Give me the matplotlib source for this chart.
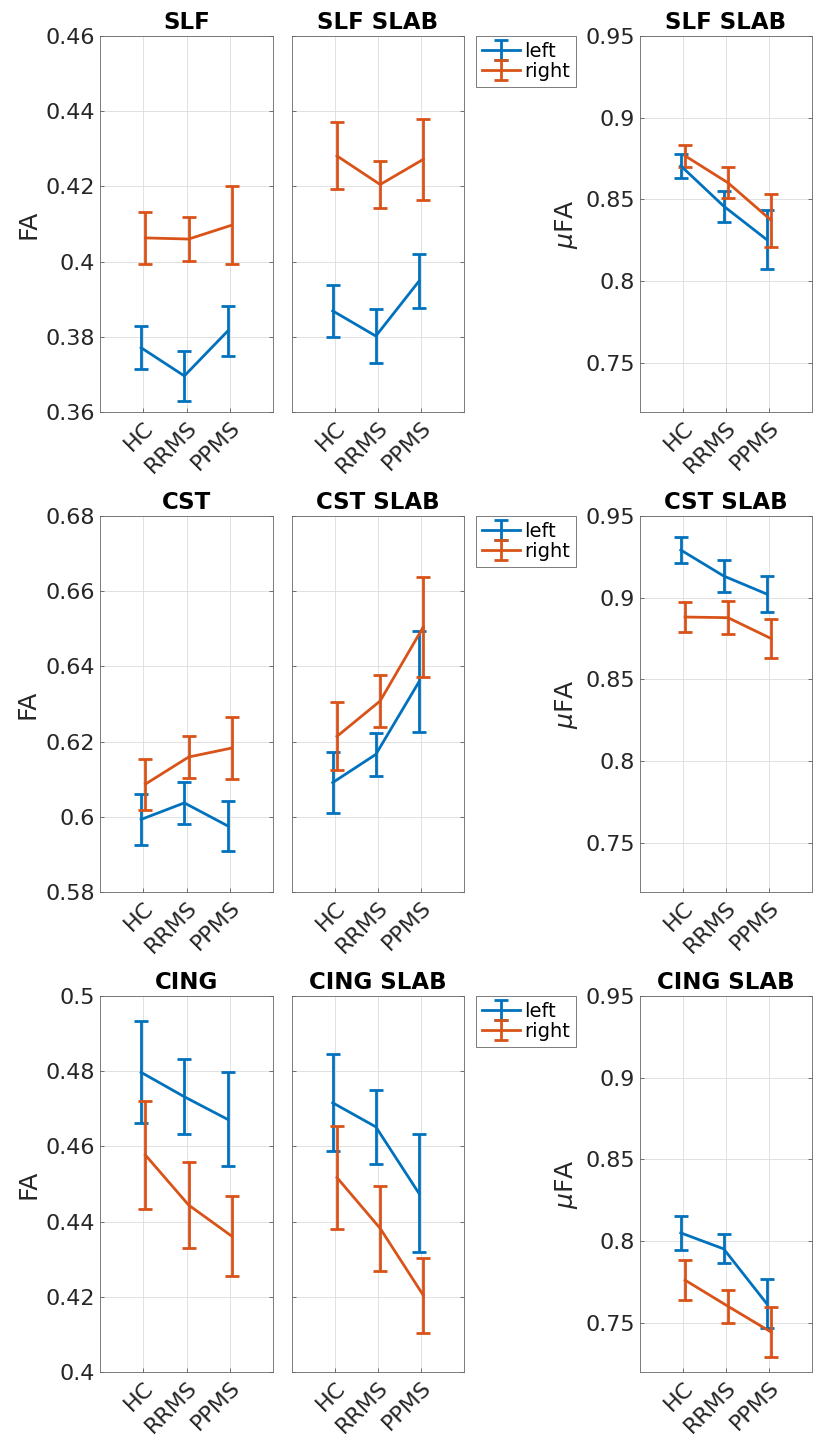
import matplotlib
matplotlib.use("Agg")
import matplotlib.pyplot as plt
import numpy as np

plt.rcParams['font.family'] = ['DejaVu Sans']

groups = ["HC", "RRMS", "PPMS"]
titles = ["SLF", "SLF SLAB", "SLF SLAB",
          "CST", "CST SLAB", "CST SLAB",
          "CING", "CING SLAB", "CING SLAB"]

# means and half-widths of error bars, per panel: (left, right)
slf_left = [0.3771, 0.3696, 0.3815]
slf_left_err = [0.0057, 0.0067, 0.0066]
slf_right = [0.4063, 0.4060, 0.4097]
slf_right_err = [0.0070, 0.0059, 0.0104]

slfslab_left = [0.3869, 0.3802, 0.3948]
slfslab_left_err = [0.0069, 0.0071, 0.0071]
slfslab_right = [0.4281, 0.4205, 0.4272]
slfslab_right_err = [0.0089, 0.0063, 0.0107]

slfmu_left = [0.8706, 0.8459, 0.8255]
slfmu_left_err = [0.0075, 0.0094, 0.0178]
slfmu_right = [0.8767, 0.8602, 0.8374]
slfmu_right_err = [0.0067, 0.0094, 0.0162]

cst_left = [0.5993, 0.6037, 0.5976]
cst_left_err = [0.0068, 0.0055, 0.0066]
cst_right = [0.6087, 0.6159, 0.6183]
cst_right_err = [0.0068, 0.0057, 0.0083]

cstslab_left = [0.6091, 0.6166, 0.6359]
cstslab_left_err = [0.0082, 0.0058, 0.0134]
cstslab_right = [0.6214, 0.6308, 0.6505]
cstslab_right_err = [0.0090, 0.0070, 0.0133]

cstmu_left = [0.9292, 0.9133, 0.9023]
cstmu_left_err = [0.0080, 0.0097, 0.0112]
cstmu_right = [0.8882, 0.8878, 0.8751]
cstmu_right_err = [0.0090, 0.0100, 0.0119]

cing_left = [0.4797, 0.4732, 0.4672]
cing_left_err = [0.0136, 0.0100, 0.0125]
cing_right = [0.4577, 0.4444, 0.4361]
cing_right_err = [0.0144, 0.0114, 0.0106]

cingslab_left = [0.4716, 0.4652, 0.4475]
cingslab_left_err = [0.0129, 0.0099, 0.0157]
cingslab_right = [0.4517, 0.4382, 0.4204]
cingslab_right_err = [0.0138, 0.0113, 0.0099]

cingmu_left = [0.8051, 0.7953, 0.7619]
cingmu_left_err = [0.0105, 0.0089, 0.0148]
cingmu_right = [0.7762, 0.7602, 0.7445]
cingmu_right_err = [0.0122, 0.0102, 0.0153]

panels = [
    (slf_left, slf_left_err, slf_right, slf_right_err),
    (slfslab_left, slfslab_left_err, slfslab_right, slfslab_right_err),
    (slfmu_left, slfmu_left_err, slfmu_right, slfmu_right_err),
    (cst_left, cst_left_err, cst_right, cst_right_err),
    (cstslab_left, cstslab_left_err, cstslab_right, cstslab_right_err),
    (cstmu_left, cstmu_left_err, cstmu_right, cstmu_right_err),
    (cing_left, cing_left_err, cing_right, cing_right_err),
    (cingslab_left, cingslab_left_err, cingslab_right, cingslab_right_err),
    (cingmu_left, cingmu_left_err, cingmu_right, cingmu_right_err),
]

fa_limits = [(0.36, 0.46), (0.58, 0.68), (0.40, 0.50)]
mu_limits = (0.72, 0.95)

BLUE = "#0072BD"
ORANGE = "#D95319"
TXT = "#262626"

W, H = 816, 1440
fig = plt.figure(figsize=(W / 100, H / 100), dpi=100)

col_left = [100, 291.7, 640]
col_width = [173, 172.6, 171.7]
row_top = [36, 516, 996]
row_height = 376

x = np.arange(1, 4)
for i, (ml, el, mr, er) in enumerate(panels):
    r, c = divmod(i, 3)
    ax = fig.add_axes([col_left[c] / W, 1 - (row_top[r] + row_height) / H,
                       col_width[c] / W, row_height / H])
    hl = ax.errorbar(x - 0.05, ml, yerr=el, color=BLUE, lw=2,
                     capsize=5, capthick=2, elinewidth=2)
    hr = ax.errorbar(x + 0.05, mr, yerr=er, color=ORANGE, lw=2,
                     capsize=5, capthick=2, elinewidth=2)
    ax.set_xlim(0, 4)
    ax.set_xticks(x)
    ax.set_xticklabels(groups, rotation=45, ha="right", va="top",
                       rotation_mode="anchor", fontsize=16, color=TXT)
    if c < 2:
        lo, hi = fa_limits[r]
        ax.set_ylim(lo, hi)
        ax.set_yticks(np.round(np.arange(lo, hi + 1e-9, 0.02), 2))
    else:
        ax.set_ylim(*mu_limits)
        ax.set_yticks([0.75, 0.8, 0.85, 0.9, 0.95])
    ax.yaxis.set_major_formatter(plt.FuncFormatter(lambda v, p: f"{v:g}"))
    if c == 1:
        ax.tick_params(axis="y", labelleft=False)
    if c == 0:
        ax.set_ylabel("FA", fontsize=18, color=TXT, labelpad=4)
    if c == 2:
        ax.set_ylabel(r"$\mu$FA", fontsize=18, color=TXT, labelpad=4)
    ax.tick_params(axis="both", direction="in", length=3, width=0.5,
                   colors="#404040", labelsize=16, labelcolor=TXT,
                   right=True, top=False)
    ax.tick_params(axis="x", pad=4)
    ax.grid(True, color="#dcdcdc", lw=0.6)
    ax.set_axisbelow(True)
    for s in ax.spines.values():
        s.set_color("#666666")
        s.set_linewidth(0.6)
    ax.set_title(titles[i], fontsize=16.5, fontweight="bold", color="black", pad=5)
    if c == 1:
        leg = ax.legend([hl, hr], ["left", "right"], loc="upper left",
                        bbox_to_anchor=(475.7 / W, 1 - row_top[r] / H),
                        bbox_transform=fig.transFigure, fontsize=14,
                        fancybox=False, framealpha=1, edgecolor="#666666",
                        borderpad=0.3, handlelength=2.0, handletextpad=0.2,
                        labelspacing=0.05, borderaxespad=0)
        leg.get_frame().set_linewidth(0.6)

fig.savefig("out.png", dpi=100)
